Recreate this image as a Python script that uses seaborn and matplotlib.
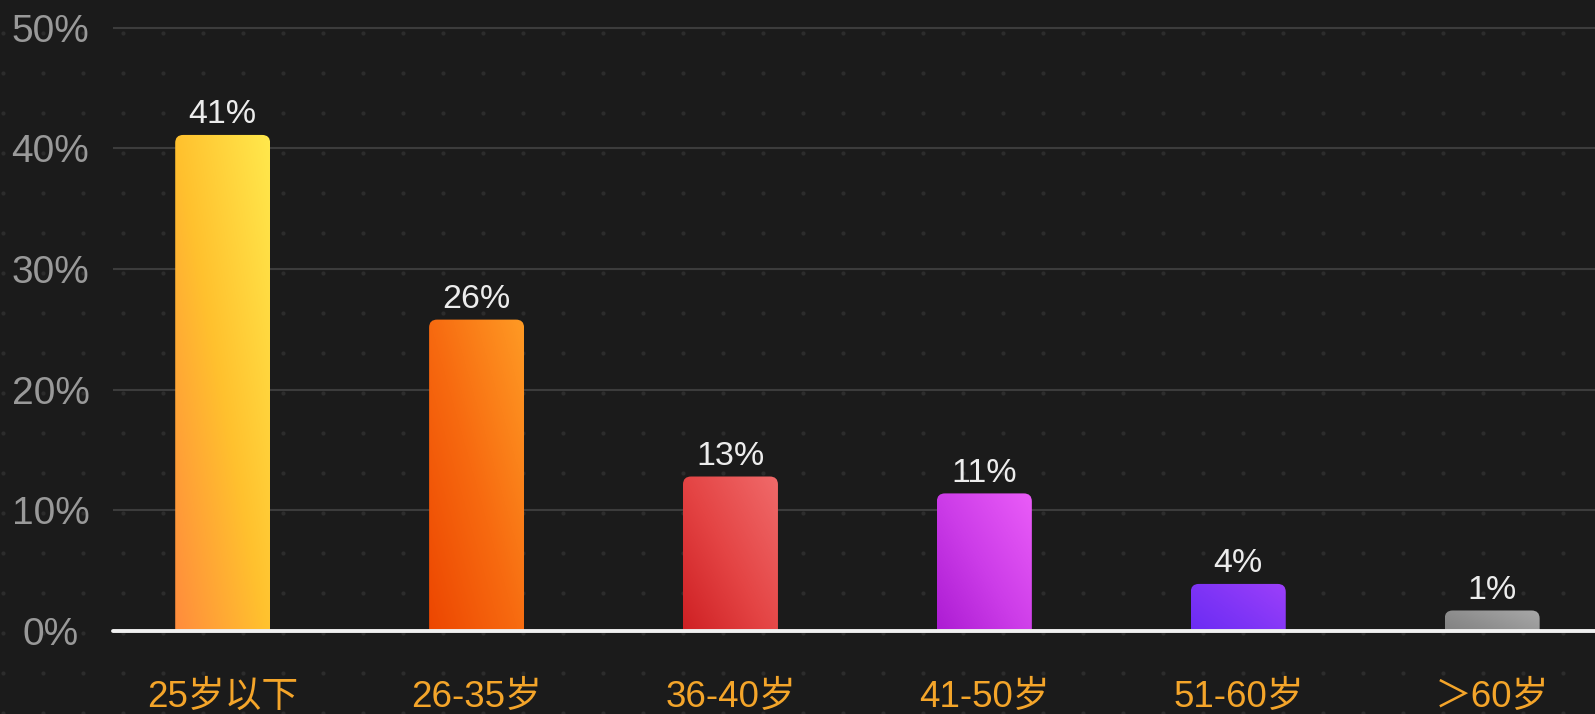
import numpy as np
import pandas as pd
import matplotlib
matplotlib.use('Agg')
import matplotlib.pyplot as plt
import seaborn as sns
from matplotlib.patches import FancyBboxPatch
from matplotlib.colors import LinearSegmentedColormap

# data
age_groups = ['25岁以下', '26-35岁', '36-40岁', '41-50岁', '51-60岁', '＞60岁']
share = [41.1, 25.8, 12.8, 11.4, 3.9, 1.7]
share_labels = ['41%', '26%', '13%', '11%', '4%', '1%']
y_ticks = [0, 10, 20, 30, 40, 50]

# gradient colours per bar (bottom-left -> top-right)
bar_grads = [('#ff8a3d', '#ffc12e', '#ffe84c'),
             ('#ec4400', '#f76a10', '#ff9a24'),
             ('#cc1c20', '#e44444', '#f06a6a'),
             ('#a818d0', '#cc3ce8', '#ea5cf8'),
             ('#6428f2', '#7e34f6', '#9c40fa'),
             ('#777777', '#8e8e8e', '#a8a8a8')]

bg = '#1b1b1b'
sns.set_style('dark')
plt.rcParams['font.family'] = ['Liberation Sans', 'Noto Sans CJK SC', 'DejaVu Sans']

df = pd.DataFrame({'age': age_groups, 'share': share})

W, H = 1595, 714
fig = plt.figure(figsize=(W / 100, H / 100), dpi=100, facecolor=bg)

# dotted backdrop
bg_ax = fig.add_axes([0, 0, 1, 1], zorder=0)
bg_ax.set_facecolor(bg)
bg_ax.set_xlim(0, W)
bg_ax.set_ylim(H, 0)
bg_ax.axis('off')
gx, gy = np.meshgrid(np.arange(3, W, 40), np.arange(33, H, 40))
bg_ax.scatter(gx.ravel(), gy.ravel(), s=9, color='#2c2c2c', lw=0)

ax = fig.add_axes([113 / W, (H - 631) / H, (W - 113) / W, 631 / H], zorder=1)
ax.patch.set_alpha(0)
sns.barplot(data=df, x='age', y='share', ax=ax, width=0.374, color='#888888')

x_lim = (-0.432, 5.405)
y_lim = (0, 52.28)
ax.set_xlim(*x_lim)
ax.set_ylim(*y_lim)

# pixels per data unit, for the rounded corners
px_x = (W - 113) / (x_lim[1] - x_lim[0])
px_y = 631 / (y_lim[1] - y_lim[0])
r = 8 / px_x
asp = px_x / px_y

ny, nx = 200, 60
xn, yn = np.meshgrid(np.linspace(0, 1, nx), np.linspace(0, 1, ny))
t = 0.5 * xn + 0.5 * yn

for p, cols, lbl in zip(ax.patches, bar_grads, share_labels):
    x0, w, h = p.get_x(), p.get_width(), p.get_height()
    p.set_visible(False)
    bottom = -1.5
    box = FancyBboxPatch((x0, bottom), w, h - bottom,
                         boxstyle=f'round,pad=0,rounding_size={r}',
                         mutation_aspect=asp, facecolor='none', edgecolor='none',
                         transform=ax.transData)
    ax.add_patch(box)
    cmap = LinearSegmentedColormap.from_list('g', list(cols))
    im = ax.imshow(t, extent=[x0, x0 + w, bottom, h], origin='lower', cmap=cmap,
                   aspect='auto', zorder=2, interpolation='bilinear')
    im.set_clip_path(box)
    ax.annotate(lbl, (x0 + w / 2, h), xytext=(0, 8.5), textcoords='offset points',
                ha='center', va='baseline', fontsize=24.5, color='#ececec', zorder=4)

ax.set_xlim(*x_lim)
ax.set_ylim(*y_lim)

ax.set_yticks(y_ticks)
ax.set_yticklabels([f'{v}%' for v in y_ticks])
ax.yaxis.grid(True, color='#3c3c3c', lw=1.5)
ax.xaxis.grid(False)
ax.set_axisbelow(True)
ax.axhline(0, color='#f0f0f0', lw=2.8, zorder=5, clip_on=False)
for s in ax.spines.values():
    s.set_visible(False)

ax.tick_params(axis='y', length=0, pad=45, labelsize=28, labelcolor='#999999')
for tl in ax.get_yticklabels():
    tl.set_ha('center')
ax.tick_params(axis='x', length=0, pad=54.5, labelsize=26.5, labelcolor='#f4a52a')
for tl in ax.get_xticklabels():
    tl.set_va('baseline')
ax.set_xlabel('')
ax.set_ylabel('')

fig.savefig('out.png', dpi=100, facecolor=bg)
